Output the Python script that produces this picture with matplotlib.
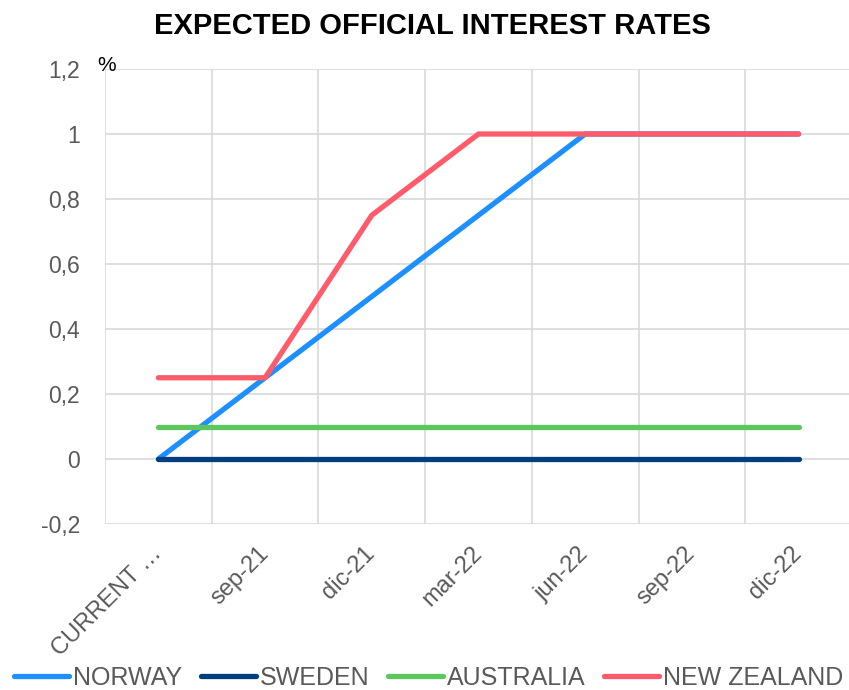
import matplotlib
matplotlib.use("Agg")
import matplotlib.pyplot as plt
from matplotlib.lines import Line2D

plt.rcParams['font.family'] = ['Liberation Sans', 'DejaVu Sans']

# data
periods = ["CURRENT …", "sep-21", "dic-21", "mar-22", "jun-22", "sep-22", "dic-22"]
norway = [0.0, 0.25, 0.5, 0.75, 1.0, 1.0, 1.0]
sweden = [0.0, 0.0, 0.0, 0.0, 0.0, 0.0, 0.0]
australia = [0.1, 0.1, 0.1, 0.1, 0.1, 0.1, 0.1]
new_zealand = [0.25, 0.25, 0.75, 1.0, 1.0, 1.0, 1.0]

series = [("NORWAY", norway, "#1E8FFF"),
          ("SWEDEN", sweden, "#003F7F"),
          ("AUSTRALIA", australia, "#5CC85C"),
          ("NEW ZEALAND", new_zealand, "#FF5B6B")]

fig = plt.figure(figsize=(8.49, 6.90), dpi=100)
ax = fig.add_axes([105 / 849, 1 - 524 / 690, 747 / 849, 455 / 690])

x = list(range(len(periods)))
for name, vals, col in series:
    ax.plot(x, vals, color=col, lw=3.8, solid_capstyle='round',
            solid_joinstyle='round', label=name)

ax.set_xlim(-0.5, 6.5)
ax.set_ylim(-0.2, 1.2)
ax.set_yticks([-0.2, 0, 0.2, 0.4, 0.6, 0.8, 1.0, 1.2])
ax.set_yticklabels(["-0,2", "0", "0,2", "0,4", "0,6", "0,8", "1", "1,2"])
ax.set_xticks(x)
ax.set_xticklabels(periods, rotation=45, ha='right', va='center',
                   rotation_mode='anchor')
ax.set_xticks([i - 0.5 for i in range(8)], minor=True)
ax.tick_params(axis='x', which='both', length=0, pad=19, labelsize=17,
               labelcolor='#595959')
ax.tick_params(axis='y', length=0, pad=18, labelsize=16.5, labelcolor='#595959')
ax.grid(True, which='minor', axis='x', color='#D9D9D9', lw=1.2)
ax.grid(True, which='major', axis='y', color='#D9D9D9', lw=1.2)
ax.set_axisbelow(True)
for s in ax.spines.values():
    s.set_visible(False)

ax.text(-0.575, 1.194, "%", fontsize=15, color='black', ha='left', va='baseline')

fig.text(0.509, 0.963, "EXPECTED OFFICIAL INTEREST RATES", fontsize=21,
         fontweight='bold', ha='center', va='center')

handles = [Line2D([], [], color=c, lw=3.8, solid_capstyle='round')
           for _, _, c in series]
fig.legend(handles, [n for n, _, _ in series], loc='center',
           bbox_to_anchor=(0.505, 0.018), ncol=4, frameon=False, fontsize=18,
           labelcolor='#595959', handlelength=2.2, handletextpad=0.15,
           columnspacing=0.75, borderpad=0, borderaxespad=0)

fig.savefig("out.png", dpi=100)
